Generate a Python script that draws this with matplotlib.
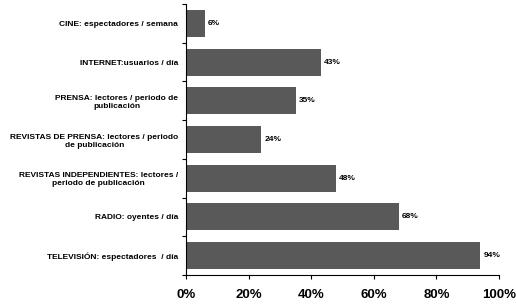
import matplotlib
matplotlib.use("Agg")
import matplotlib.pyplot as plt

categories = [
    "CINE: espectadores / semana",
    "INTERNET:usuarios / día",
    "PRENSA: lectores / periodo de\npublicación",
    "REVISTAS DE PRENSA: lectores / periodo\nde publicación",
    "REVISTAS INDEPENDIENTES: lectores /\nperiodo de publicación",
    "RADIO: oyentes / día",
    "TELEVISIÓN: espectadores  / día",
]
values = [6, 43, 35, 24, 48, 68, 94]
xticks = [0, 20, 40, 60, 80, 100]
xticklabels = ["0%", "20%", "40%", "60%", "80%", "100%"]

plt.rcParams['font.family'] = ['Liberation Sans', 'DejaVu Sans']
fig = plt.figure(figsize=(5.16, 3.05), dpi=100)
ax = fig.add_axes([186/516, 30/305, 313/516, 271/305])

n = len(categories)
pos = list(range(n))
ax.barh(pos, values, height=0.7, color="#595959", edgecolor="none")
ax.set_ylim(n - 0.5, -0.5)
ax.set_xlim(0, 100)
for p, v in zip(pos, values):
    ax.text(v + 1.0, p, f"{v}%", va="center", ha="left", fontsize=6, fontweight="bold")

ax.set_yticks([p + 0.5 for p in range(-1, n)], minor=False)
ax.set_yticklabels([])
ax.set_yticks(pos, minor=True)
ax.set_yticklabels(categories, minor=True, fontsize=6, fontweight="bold", multialignment="center")
ax.tick_params(axis="y", which="minor", length=0, pad=5.5)
ax.tick_params(axis="y", which="major", length=3, width=0.8)

ax.set_xticks(xticks)
ax.set_xticklabels(xticklabels, fontsize=9.5, fontweight="bold")
ax.tick_params(axis="x", length=3, width=0.8, pad=7)

ax.spines["top"].set_visible(False)
ax.spines["right"].set_visible(False)
ax.spines["left"].set_linewidth(0.8)
ax.spines["bottom"].set_linewidth(0.8)

fig.savefig("out.png", dpi=100)
